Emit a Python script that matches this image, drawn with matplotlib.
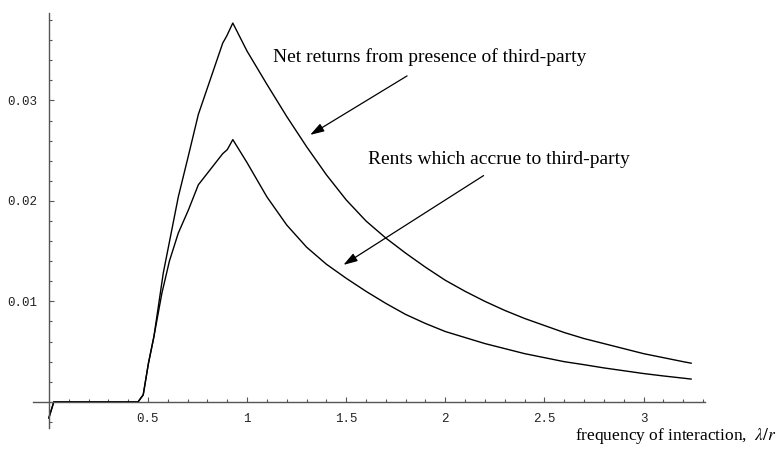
import matplotlib
matplotlib.use("Agg")
import matplotlib.pyplot as plt
from matplotlib.ticker import FixedLocator, FixedFormatter

plt.rcParams['mathtext.fontset'] = 'stix'

# Net returns from presence of third-party (upper curve)
net_x = [0.0, 0.025, 0.45, 0.476, 0.502, 0.53, 0.577, 0.653, 0.704, 0.754, 0.877, 0.897, 0.928,
         1.0, 1.1, 1.2, 1.3, 1.4, 1.5, 1.6, 1.7, 1.8, 1.9, 2.0, 2.1, 2.2, 2.3, 2.4, 2.5,
         2.6, 2.7, 2.8, 2.9, 3.0, 3.1, 3.2, 3.24]
net_y = [-0.0016, 0.0, 0.0, 0.0007, 0.0038, 0.0065, 0.0128, 0.0204, 0.0245, 0.0286, 0.0357, 0.0364, 0.0377,
         0.0349, 0.0316, 0.0284, 0.0254, 0.0226, 0.0201, 0.0180, 0.0163, 0.0148, 0.0134, 0.0121, 0.0110,
         0.0100, 0.0091, 0.0083, 0.0076, 0.0069, 0.0063, 0.0058, 0.0053, 0.0048, 0.0044, 0.0040, 0.00385]

# Rents which accrue to third-party (lower curve)
rent_x = [0.0, 0.025, 0.45, 0.476, 0.502, 0.53, 0.57, 0.608, 0.653, 0.704, 0.754, 0.877, 0.9, 0.928,
          1.0, 1.1, 1.2, 1.3, 1.4, 1.5, 1.6, 1.7, 1.8, 1.9, 2.0, 2.1, 2.2, 2.3, 2.4, 2.5,
          2.6, 2.7, 2.8, 2.9, 3.0, 3.1, 3.2, 3.24]
rent_y = [-0.0016, 0.0, 0.0, 0.0007, 0.0038, 0.0065, 0.0108, 0.0140, 0.0168, 0.0191, 0.0216, 0.0247, 0.0251, 0.0261,
          0.0238, 0.0204, 0.0176, 0.0154, 0.0137, 0.0123, 0.0110, 0.0098, 0.0087, 0.0078, 0.0070, 0.0064,
          0.0058, 0.0053, 0.0048, 0.0044, 0.0040, 0.0037, 0.00338, 0.0031, 0.00282, 0.00258, 0.00236, 0.00227]

x_major = [0.5, 1, 1.5, 2, 2.5, 3]
x_labels = ['0.5', '1', '1.5', '2', '2.5', '3']
y_major = [0.01, 0.02, 0.03]
y_labels = ['0.01', '0.02', '0.03']

W, H = 779, 451
fig = plt.figure(figsize=(W / 100, H / 100), dpi=100)
ax = fig.add_axes([33 / W, 23 / H, (705 - 33) / W, (438 - 23) / H])
ax.set_xlim(-0.08, 3.31)
ax.set_ylim(-0.0026, 0.0387)

ax.plot(net_x, net_y, color='black', lw=1.0)
ax.plot(rent_x, rent_y, color='black', lw=1.0)

# Mathematica-style axes crossing at the origin
for s in ['top', 'right']:
    ax.spines[s].set_visible(False)
ax.spines['left'].set_position(('data', 0))
ax.spines['bottom'].set_position(('data', 0))
for s in ['left', 'bottom']:
    ax.spines[s].set_color('#555555')
    ax.spines[s].set_linewidth(1.0)

ax.xaxis.set_major_locator(FixedLocator(x_major))
ax.xaxis.set_major_formatter(FixedFormatter(x_labels))
ax.xaxis.set_minor_locator(FixedLocator([i / 10 for i in range(1, 34) if i % 5 != 0]))
ax.yaxis.set_major_locator(FixedLocator(y_major))
ax.yaxis.set_major_formatter(FixedFormatter(y_labels))
ax.yaxis.set_minor_locator(FixedLocator([i / 1000 for i in range(-2, 39, 2) if i % 10 != 0]))

ax.tick_params(which='both', direction='in', color='#555555', width=0.8,
               labelsize=9, labelcolor='#222222')
ax.tick_params(which='major', length=3.4)
ax.tick_params(which='minor', length=2.0)
ax.tick_params(axis='x', which='major', pad=8)
ax.tick_params(axis='y', which='major', pad=8)
for lab in ax.get_xticklabels() + ax.get_yticklabels():
    lab.set_family('Liberation Mono')

serif = 'Liberation Serif'
ax.text(1.131, 0.03433, 'Net returns from presence of third-party', family=serif,
        fontsize=14, ha='left', va='center')
ax.text(1.608, 0.02415, 'Rents which accrue to third-party', family=serif,
        fontsize=14, ha='left', va='center')

arrow = dict(arrowstyle='-|>,head_length=0.7,head_width=0.22', color='black', lw=0.9,
             shrinkA=0, shrinkB=0, mutation_scale=12)
ax.annotate('', xy=(1.318, 0.02657), xytext=(1.807, 0.03244), arrowprops=arrow)
ax.annotate('', xy=(1.486, 0.01363), xytext=(2.193, 0.02252), arrowprops=arrow)

fig.text(1.0 - 2 / W, 1 - 440 / H, r'frequency of interaction,  $\lambda/r$', family=serif,
         fontsize=12.5, ha='right', va='baseline')

fig.savefig('out.png', dpi=100)
